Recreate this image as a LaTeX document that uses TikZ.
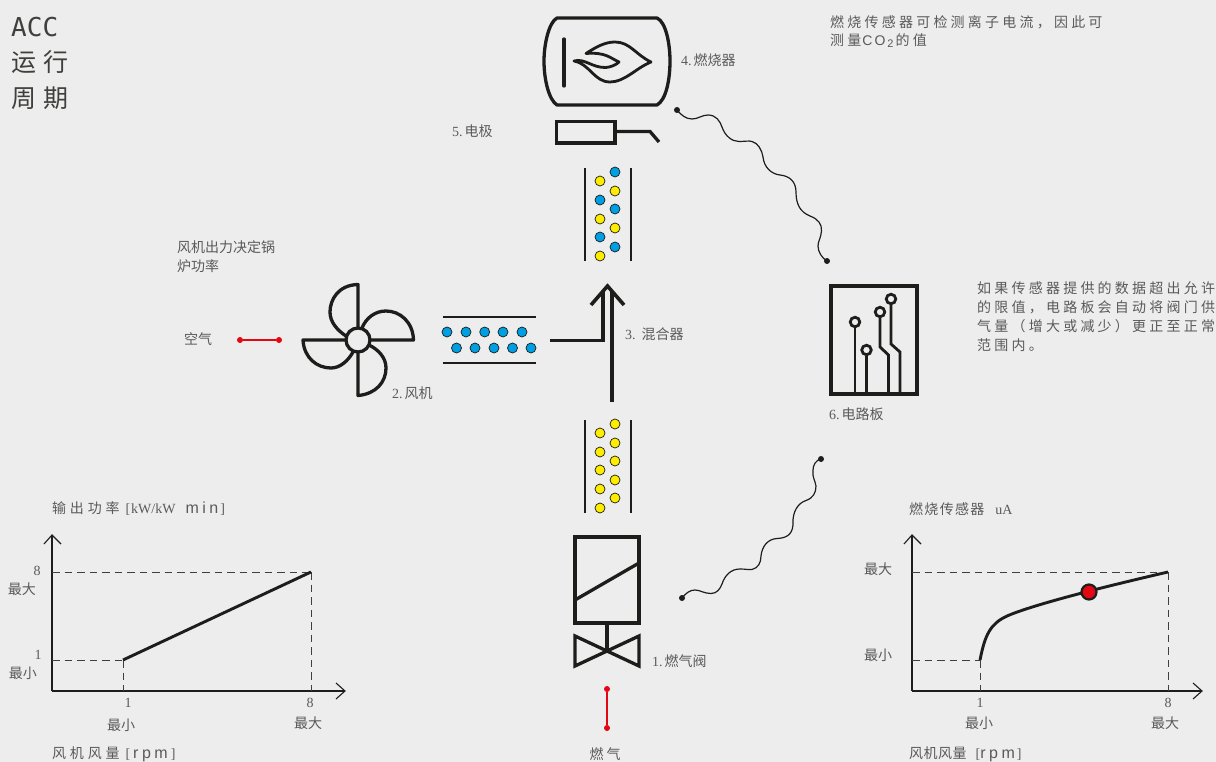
\documentclass[tikz,border=0pt]{standalone}
\usepackage{fontspec}
\setmainfont{Liberation Serif}
\newfontfamily\cjk{Noto Sans CJK SC}
\newfontfamily\cjkw[LetterSpace=23]{Noto Sans CJK SC}
\newfontfamily\cjkm[LetterSpace=27]{Noto Sans CJK SC}
\newfontfamily\serf{Liberation Serif}
\newfontfamily\sanw[LetterSpace=22]{Liberation Sans}
\newfontfamily\monof{DejaVu Sans Mono}
\definecolor{bgc}{HTML}{EDEDED}
\definecolor{ink}{HTML}{1D1D1B}
\definecolor{txt}{HTML}{5A5A5A}
\definecolor{redc}{HTML}{E30613}
\definecolor{bluec}{HTML}{009FE3}
\definecolor{yelc}{HTML}{FFED00}
\tikzset{
  lab/.style={anchor=west,inner sep=0pt,text=txt,font=\fontsize{14}{16}\selectfont\cjk},
  labw/.style={lab,font=\fontsize{14}{16}\selectfont\cjkw},
  num/.style={lab,anchor=center,font=\fontsize{14}{16}\selectfont\serf},
  head/.style={anchor=west,inner sep=0pt,text=ink!85!white,font=\fontsize{25}{30}\selectfont\cjk},
  thick line/.style={draw=ink,line width=3.3pt},
  duct/.style={draw=ink,line width=2pt},
  axis/.style={draw=ink,line width=1.1pt},
  guide/.style={draw=ink!85!white,line width=1pt,dash pattern=on 7.5pt off 5pt},
  trace/.style={draw=ink,line width=2.8pt,fill=none},
  wave/.style={draw=ink,line width=1.2pt},
  blk/.style={circle,fill=ink,inner sep=0pt,minimum size=6pt},
  rdot/.style={circle,fill=redc,inner sep=0pt,minimum size=6pt},
  gas/.style={circle,draw=ink,line width=.7pt,fill=#1,minimum size=10pt,inner sep=0pt},
  pad/.style={circle,draw=ink,line width=2.8pt,minimum size=9.5pt,inner sep=0pt},
}
\begin{document}
\begin{tikzpicture}[x=1pt,y=-1pt,line join=miter]
\useasboundingbox[fill=bgc] (0,0) rectangle (1216,762);
% heading
\node[head,font=\fontsize{26}{30}\selectfont\monof] (hA) at (11,27) {ACC};
\node[head] (hB) at (11,62) {运\hspace{7pt}行};
\node[head] (hC) at (11,98) {周\hspace{7pt}期};
% burner
\draw[thick line,line join=round] (557,18) -- (657,18) .. controls (666,22) and (670,44) .. (670,61) .. controls (670,80) and (666,100) .. (657,105) -- (557,105) .. controls (549,100) and (544,80) .. (544,61) .. controls (544,44) and (549,22) .. (557,18) -- cycle;
\draw[thick line,line cap=round] (564,39) -- (564,86);
\draw[draw=ink,line width=2.8pt,line join=round] (586,53.5) .. controls (596,47) and (605,42) .. (615,42) .. controls (630,42) and (636,55) .. (651,62) .. controls (636,68) and (625,82) .. (610,82) .. controls (594,82) and (590,64) .. (574,61) .. controls (585,58) and (592,68) .. (606,67.5) .. controls (611,67) and (616,65) .. (619,62) .. controls (610,58) and (606,52) .. (586,53.5) -- cycle;
% electrode
\draw[thick line] (556.5,121.5) rectangle (615,143);
\draw[thick line] (615,131.5) -- (650,131.5) -- (659,142);
% top column
\draw[duct] (585,168) -- (585,261) (631,168) -- (631,261);
\foreach \px/\py/\c in {615/172/bluec,600/181/yelc,615/191/yelc,600/200/bluec,615/209/bluec,600/219/yelc,615/228/yelc,600/237/bluec,615/247/bluec,600/256/yelc}
  \node[gas=\c] at (\px,\py) {};
% bottom column
\draw[duct] (585,420) -- (585,513) (631,420) -- (631,513);
\foreach \px/\py in {615/424,600/433,615/443,600/452,615/461,600/470,615/480,600/489,615/498,600/508}
  \node[gas=yelc] at (\px,\py) {};
% fan duct
\draw[duct] (443,317) -- (536,317) (443,363) -- (536,363);
\foreach \px in {447,466,484.7,503,522}
  \node[gas=bluec] at (\px,332) {};
\foreach \px in {456.5,475,494,512.5,531}
  \node[gas=bluec] at (\px,348) {};
% fan
\draw[thick line,line join=round] (358,328) -- (358,284.5) .. controls (338,285) and (330,300) .. (330,312) .. controls (330,322) and (337,330) .. (346,336);
\draw[thick line,line join=round] (370,340) -- (413.5,340) .. controls (413,322) and (400,311) .. (386,311) .. controls (375,311) and (366,318) .. (362,328);
\draw[thick line,line join=round] (358,352) -- (358,395.5) .. controls (376,394) and (386,382) .. (386,368) .. controls (386,358) and (379,350) .. (369,345);
\draw[thick line,line join=round] (346,340) -- (303,340) .. controls (304,358) and (317,368) .. (331,368) .. controls (340,368) and (348,361) .. (353,352);
\node[circle,draw=ink,line width=3.3pt,minimum size=24pt,inner sep=0pt] (hub) at (358,340) {};
% mixer arrows
\draw[draw=ink,line width=3.6pt] (550,340.5) -- (603,340.5) -- (603,292);
\draw[draw=ink,line width=3.6pt] (612,402) -- (612,292);
\draw[draw=ink,line width=3.6pt] (591,305) -- (607.5,286) -- (624,305);
% circuit board
\draw[draw=ink,line width=3.6pt] (831,286) rectangle (917,394);
\node[pad] (c1) at (855,322) {};
\node[pad] (c2) at (866.5,350) {};
\node[pad] (c3) at (880,312) {};
\node[pad] (c4) at (891,299) {};
\draw[trace] (c1) -- (855,394);
\draw[trace] (c2) -- (866.5,394);
\draw[trace] (c3) -- (880,347) -- (888.5,355) -- (888.5,394);
\draw[trace] (c4) -- (891,344) -- (900,352) -- (900,394);
% valve
\draw[draw=ink,line width=3.6pt] (575,537) rectangle (639,623);
\draw[draw=ink,line width=3.3pt] (575,600) -- (639,563);
\draw[draw=ink,line width=3.3pt] (607,623) -- (607,651);
\draw[draw=ink,line width=3.3pt] (575,636) -- (575,666) -- (639,636) -- (639,666) -- cycle;
% red feeds
\node[rdot] (g1) at (607,689) {};
\node[rdot] (g2) at (607,728) {};
\draw[draw=redc,line width=1.1pt] (g1) -- (g2);
\node[rdot] (a1) at (240,340) {};
\node[rdot] (a2) at (279,340) {};
\draw[draw=redc,line width=1.1pt] (a1) -- (a2);
% signal lines
\node[blk] (w1) at (677,110) {};
\node[blk] (w2) at (827,261) {};
\draw[wave] (w1.center) .. controls (681,115) and (686,119) .. (692,119)
 .. controls (698,119) and (702,115) .. (708,115)
 .. controls (716,115) and (720,121) .. (722,127)
 .. controls (725,136) and (732,141.5) .. (739,141.5)
 .. controls (745,141.5) and (749,140.5) .. (752,141.5)
 .. controls (758,143) and (762,150) .. (763,157)
 .. controls (764,167) and (771,174) .. (780,175)
 .. controls (790,176) and (796,182) .. (796,192)
 .. controls (796,204) and (800,212) .. (810,216)
 .. controls (818,219) and (822,224) .. (821.5,231)
 .. controls (821,238) and (818,241) .. (818,246)
 .. controls (818,252) and (822,258) .. (w2.center);
\node[blk] (w3) at (682,598) {};
\node[blk] (w4) at (821,459) {};
\draw[wave] (w3.center) .. controls (686,593) and (690,590) .. (695,590)
 .. controls (700,590) and (704,593.5) .. (711,593.5)
 .. controls (717,593.5) and (720,589) .. (722,584)
 .. controls (725,575) and (731,569) .. (740,569)
 .. controls (746,569) and (749,570) .. (752,569.5)
 .. controls (758,568) and (761,563) .. (761,556)
 .. controls (762,546) and (768,539) .. (777,538.5)
 .. controls (785,538) and (792,536) .. (793,525)
 .. controls (792,512) and (798,503) .. (806,500.5)
 .. controls (813,498) and (816,493) .. (816,486)
 .. controls (815,480) and (812,477) .. (813,470)
 .. controls (813,465) and (816,460) .. (w4.center);
% left chart
\coordinate (lo) at (52,691); \coordinate (lx) at (345,691); \coordinate (ly) at (52,535);
\coordinate (lmin) at (123,660); \coordinate (lmax) at (311,572);
\draw[axis] (lo) -- (lx); \draw[axis] (lo) -- (ly);
\draw[axis] (336,683) -- (lx) -- (336,699);
\draw[axis] (44,544) -- (ly) -- (61,544);
\draw[guide] (52,572) -- (lmax); \draw[guide] (lmax) -- (311,691);
\draw[guide] (52,660) -- (lmin); \draw[guide] (lmin) -- (123,691);
\draw[draw=ink,line width=2.9pt] (lmin) -- (lmax);
% right chart
\coordinate (ro) at (912,691); \coordinate (rx) at (1202,691); \coordinate (ry) at (912,535);
\coordinate (rmin) at (980,660); \coordinate (rmax) at (1168,572);
\draw[axis] (ro) -- (rx); \draw[axis] (ro) -- (ry);
\draw[axis] (1193,683) -- (rx) -- (1193,699);
\draw[axis] (904,544) -- (ry) -- (921,544);
\draw[guide] (912,572) -- (rmax); \draw[guide] (rmax) -- (1168,691);
\draw[guide] (912,660) -- (rmin); \draw[guide] (rmin) -- (980,691);
\draw[draw=ink,line width=2.9pt] (rmin) .. controls (985,635) and (990,624) .. (1007,616) .. controls (1030,606) and (1090,590) .. (rmax);
\node[circle,draw=ink,line width=2.2pt,fill=redc,minimum size=15pt,inner sep=0pt] (pt) at (1089,592) {};
% labels
\node[labw] (t1) at (830,22) {燃烧传感器可检测离子电流，因此可};
\node[labw] (t2) at (830,41) {测量\hspace{1pt}{\sanw\fontsize{14}{16}\selectfont C\hspace{2pt}O\hspace{2pt}\raisebox{-2pt}{\fontsize{11}{12}\selectfont 2}}\hspace{2pt}的值};
\node[lab] (t3) at (681,60) {{\serf 4.\hspace{2pt}}燃烧器};
\node[lab] (t4) at (452,131) {{\serf 5.\hspace{2pt}}电极};
\node[lab] (t5) at (177,247) {风机出力决定锅};
\node[lab] (t6) at (177,266) {炉功率};
\node[lab] (t7) at (184,339) {空气};
\node[lab] (t8) at (392,393) {{\serf 2.\hspace{2pt}}风机};
\node[lab] (t9) at (625,334) {{\serf 3.\hspace{6pt}}混合器};
\node[lab] (t10) at (829,414) {{\serf 6.\hspace{2pt}}电路板};
\node[lab] (t11) at (652,661) {{\serf 1.\hspace{2pt}}燃气阀};
\node[lab,anchor=center] (t12) at (605,754) {燃\hspace{3pt}气};
\node[labw] (p1) at (977,288) {如果传感器提供的数据超出允许};
\node[labw] (p2) at (977,307) {的限值，电路板会自动将阀门供};
\node[labw] (p3) at (977,326) {气量（增大或减少）更正至正常};
\node[labw] (p4) at (977,345) {范围内。};
% left chart text
\node[lab] (l1) at (52,509) {\cjkm 输出功率{\serf\hspace{6pt}[\hspace{1pt}kW/kW\hspace{10pt}}{\sanw\fontsize{16}{16}\selectfont min}{\serf\hspace{2pt}]}};
\node[lab] (l2) at (52,754) {\cjkm 风机风量{\serf\hspace{6pt}[\hspace{3pt}}{\sanw\fontsize{16}{16}\selectfont rpm}{\serf\hspace{3pt}]}};
\node[num] (l3) at (37,571) {8};
\node[lab,anchor=center] (l4) at (22,589) {最大};
\node[num] (l5) at (38,655) {1};
\node[lab,anchor=center] (l6) at (23,673) {最小};
\node[num] (l7) at (128,703) {1};
\node[lab,anchor=center] (l8) at (121,725) {最小};
\node[num] (l9) at (310,703) {8};
\node[lab,anchor=center] (l10) at (308,723) {最大};
% right chart text
\node[lab] (r1) at (909,509) {\fontsize{14}{16}\selectfont 燃\hspace{1.3pt}烧\hspace{1.3pt}传\hspace{1.3pt}感\hspace{1.3pt}器{\serf\hspace{11pt}uA}};
\node[lab] (r2) at (909,754) {风\hspace{.5pt}机\hspace{.5pt}风\hspace{.5pt}量{\serf\hspace{9pt}[}{\sanw\fontsize{16}{16}\selectfont rpm}{\serf\hspace{2pt}]}};
\node[lab,anchor=center] (r3) at (878,569) {最大};
\node[lab,anchor=center] (r4) at (878,655) {最小};
\node[num] (r5) at (980,703) {1};
\node[lab,anchor=center] (r6) at (979,723) {最小};
\node[num] (r7) at (1168,703) {8};
\node[lab,anchor=center] (r8) at (1165,723) {最大};
\end{tikzpicture}
\end{document}
